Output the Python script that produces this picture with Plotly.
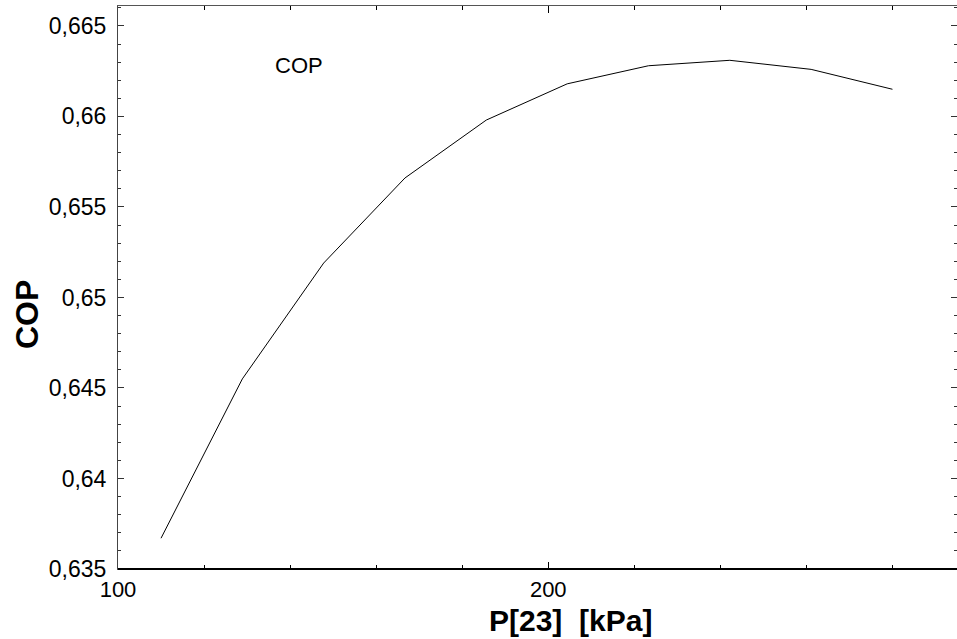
import plotly.graph_objects as go

p23_kpa = [110, 128.9, 147.8, 166.7, 185.6, 204.4, 223.3, 242.2, 261.1, 280]
cop = [0.6367, 0.6455, 0.6519, 0.6566, 0.6598, 0.6618, 0.6628, 0.6631, 0.6626, 0.6615]

x_tick_vals = [100, 200]
x_tick_text = ["100", "200"]
y_tick_vals = [0.635, 0.64, 0.645, 0.65, 0.655, 0.66, 0.665]
y_tick_text = ["0,635", "0,64", "0,645", "0,65", "0,655", "0,66", "0,665"]

FONT = "Liberation Sans, Arial, sans-serif"

fig = go.Figure()
fig.add_trace(go.Scatter(x=p23_kpa, y=cop, mode="lines",
                         line=dict(color="black", width=1), showlegend=False))

fig.add_annotation(x=136, y=0.6628, text="COP", showarrow=False,
                   xanchor="left", yanchor="middle",
                   font=dict(family=FONT, size=22, color="black"))

# axis titles placed as annotations (offset like the reference)
fig.add_annotation(xref="paper", yref="paper", x=(570 - 118) / 839, y=-(620 - 569) / 563,
                   text="<b>P[23]&nbsp;&nbsp;[kPa]</b>", showarrow=False,
                   xanchor="center", yanchor="middle",
                   font=dict(family=FONT, size=30, color="black"))
fig.add_annotation(xref="paper", yref="paper", x=-(118 - 27) / 839, y=(569 - 315) / 563,
                   text="<b>COP</b>", showarrow=False, textangle=-90,
                   xanchor="center", yanchor="middle",
                   font=dict(family=FONT, size=32, color="black"))

# thick black bottom axis line
fig.add_shape(type="line", xref="paper", yref="paper", x0=0, x1=1, y0=0, y1=0,
              line=dict(color="black", width=2), layer="above")

fig.update_layout(
    width=957, height=639,
    margin=dict(l=118, r=0, t=6, b=70),
    paper_bgcolor="white", plot_bgcolor="white",
    font=dict(family=FONT, color="black"),
)
fig.update_xaxes(
    range=[100, 295], tickmode="array", tickvals=x_tick_vals, ticktext=x_tick_text,
    ticks="inside", ticklen=7, tickcolor="black", tickwidth=1,
    minor=dict(dtick=20, tick0=100, ticks="inside", ticklen=4, tickcolor="black", showgrid=False),
    showline=True, linecolor="#555", linewidth=1, mirror="ticks",
    showgrid=False, zeroline=False,
    tickfont=dict(family=FONT, size=22, color="black"),
    ticklabelstandoff=1,
)
fig.update_yaxes(
    range=[0.635, 0.6661], tickmode="array", tickvals=y_tick_vals, ticktext=y_tick_text,
    ticks="inside", ticklen=6, tickcolor="#333", tickwidth=1,
    minor=dict(dtick=0.001, tick0=0.635, ticks="inside", ticklen=3, tickcolor="#333", showgrid=False),
    showline=True, linecolor="#444", linewidth=1, mirror="ticks",
    showgrid=False, zeroline=False,
    tickfont=dict(family=FONT, size=23, color="black"),
    ticklabelstandoff=6,
)

fig.write_html("out.html")
